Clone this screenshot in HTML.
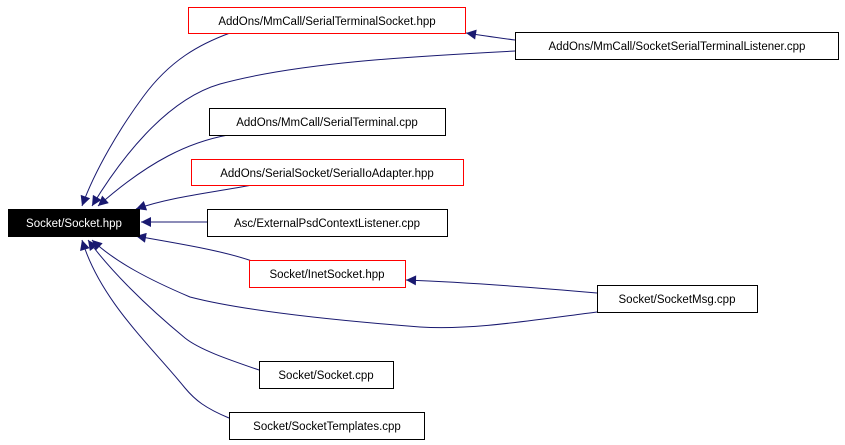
<!DOCTYPE html>
<html><head><meta charset="utf-8"><style>
html,body{margin:0;padding:0;background:#fff;}
svg{display:block;}
text{font-family:"Liberation Sans",sans-serif;font-size:11.5px;}
</style></head><body>
<svg width="845" height="445" viewBox="0 0 845 445" xmlns="http://www.w3.org/2000/svg">
<defs>
<marker id="a" viewBox="0 0 10 10" refX="10" refY="5" markerWidth="14" markerHeight="10" markerUnits="userSpaceOnUse" orient="auto">
<path d="M0,0 L10,5 L0,10 z" fill="#191970"/>
</marker>
</defs>
<g fill="none" stroke="#191970" stroke-width="1" marker-end="url(#a)">
<path d="M230,33 C200,44 170,60 143,97 C120,128 95,170 82,206"/>
<path d="M515,51 C420,56 300,62 220,84 C165,100 120,160 92,206"/>
<path d="M228,135 C190,142 150,160 98,206"/>
<path d="M252,185 C210,193 170,197 136,209"/>
<path d="M207,222 L141,222"/>
<path d="M252,261 C220,250 180,244 136,236"/>
<path d="M597,312 C520,322 470,330 420,327 C330,320 240,310 190,297 C150,280 115,262 92,240"/>
<path d="M259,370 C230,360 200,350 185,338 C145,305 110,270 88,240"/>
<path d="M229,418 C205,408 195,400 185,388 C150,345 100,300 82,240"/>
<path d="M515,40 C500,38 485,36 466,33"/>
<path d="M597,293 C540,288 460,282 406,280"/>
</g>
<g stroke-width="1">
<rect x="8.5" y="209.5" width="131" height="27" fill="#000" stroke="#000"/>
<rect x="188.5" y="7.5" width="277" height="26" fill="#fff" stroke="#ff0000"/>
<rect x="515.5" y="32.5" width="323" height="27" fill="#fff" stroke="#000"/>
<rect x="209.5" y="108.5" width="236" height="27" fill="#fff" stroke="#000"/>
<rect x="191.5" y="159.5" width="272" height="26" fill="#fff" stroke="#ff0000"/>
<rect x="207.5" y="209.5" width="240" height="27" fill="#fff" stroke="#000"/>
<rect x="249.5" y="260.5" width="156" height="27" fill="#fff" stroke="#ff0000"/>
<rect x="597.5" y="285.5" width="160" height="27" fill="#fff" stroke="#000"/>
<rect x="259.5" y="361.5" width="134" height="27" fill="#fff" stroke="#000"/>
<rect x="229.5" y="412.5" width="195" height="27" fill="#fff" stroke="#000"/>
</g>
<g text-anchor="middle">
<text x="74" y="227" fill="#fff">Socket/Socket.hpp</text>
<text x="327" y="25">AddOns/MmCall/SerialTerminalSocket.hpp</text>
<text x="677" y="50">AddOns/MmCall/SocketSerialTerminalListener.cpp</text>
<text x="327" y="126">AddOns/MmCall/SerialTerminal.cpp</text>
<text x="327" y="177">AddOns/SerialSocket/SerialIoAdapter.hpp</text>
<text x="327" y="227">Asc/ExternalPsdContextListener.cpp</text>
<text x="327" y="278">Socket/InetSocket.hpp</text>
<text x="677" y="303">Socket/SocketMsg.cpp</text>
<text x="326" y="379">Socket/Socket.cpp</text>
<text x="327" y="430">Socket/SocketTemplates.cpp</text>
</g>
</svg>
</body></html>
